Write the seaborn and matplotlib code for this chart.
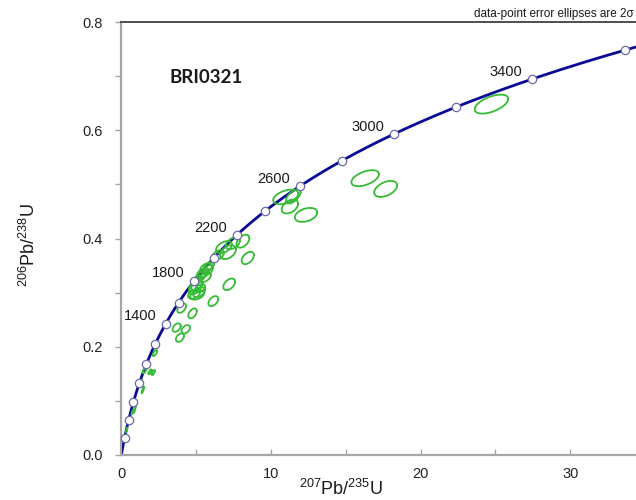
"""
Concordia diagram for sample BRI0321 (U-Pb zircon, 2 sigma error ellipses)
"""

import numpy as np
import pandas as pd
import seaborn as sns
import matplotlib.pyplot as plt

# ── Data ───────────────────────────────────────────────────────────
# decay constants (1/yr) used for the concordia curve
LAMBDA_238 = 1.55125e-10
LAMBDA_235 = 9.8485e-10

# age markers on the concordia (Ma) and the ones carrying a label
marker_ages = [200, 400, 600, 800, 1000, 1200, 1400, 1600, 1800, 2000,
               2200, 2400, 2600, 2800, 3000, 3200, 3400, 3600]
label_ages = [1400, 1800, 2200, 2600, 3000, 3400]

# analyses: ratio, 2 sigma error, error correlation
pb207_u235 = [24.74, 16.30, 17.67, 12.35, 10.99, 11.49, 11.27,
              6.86, 7.13, 7.46, 8.13, 8.45, 6.46, 7.21, 6.15,
              4.76, 4.03, 3.70, 4.31, 3.92,
              5.66, 5.46, 5.79, 5.32, 5.59, 5.86, 5.12,
              5.06, 4.92, 5.19, 4.86, 5.06, 5.26, 4.79,
              2.25, 1.56, 1.92, 2.14, 1.44, 1.28, 0.98, 0.88, 0.75, 0.36]
pb206_u238 = [0.6483, 0.5114, 0.4916, 0.4436, 0.4768, 0.4776, 0.4591,
              0.3840, 0.3748, 0.3914, 0.3951, 0.3640, 0.3692, 0.3153, 0.2843,
              0.2616, 0.2714, 0.2354, 0.2322, 0.2169,
              0.3452, 0.3360, 0.3416, 0.3304, 0.3286, 0.3489, 0.3249,
              0.3138, 0.3064, 0.3009, 0.2972, 0.2954, 0.3083, 0.3101,
              0.1883, 0.1564, 0.1536, 0.1523, 0.1200, 0.1348, 0.0941, 0.0831, 0.0794, 0.0462]
err_207_235 = [1.12, 0.92, 0.77, 0.75, 0.84, 0.49, 0.55,
               0.53, 0.53, 0.47, 0.43, 0.41, 0.40, 0.39, 0.33,
               0.28, 0.29, 0.27, 0.28, 0.27,
               0.40, 0.40, 0.33, 0.33, 0.40, 0.33, 0.27,
               0.40, 0.40, 0.40, 0.40, 0.47, 0.33, 0.27,
               0.15, 0.13, 0.11, 0.11, 0.08, 0.08, 0.07, 0.07, 0.07, 0.05]
err_206_238 = [0.0175, 0.0148, 0.0148, 0.0129, 0.0135, 0.0129, 0.0129,
               0.0111, 0.0129, 0.0111, 0.0120, 0.0114, 0.0092, 0.0107, 0.0092,
               0.0092, 0.0087, 0.0078, 0.0078, 0.0078,
               0.0092, 0.0092, 0.0092, 0.0092, 0.0092, 0.0074, 0.0074,
               0.0092, 0.0092, 0.0092, 0.0083, 0.0083, 0.0074, 0.0074,
               0.0055, 0.0055, 0.0046, 0.0046, 0.0061, 0.0046, 0.0055, 0.0055, 0.0046, 0.0046]
rho = [0.55, 0.50, 0.45, 0.35, 0.45, 0.60, 0.40,
       0.45, 0.40, 0.45, 0.45, 0.45, 0.45, 0.45, 0.45,
       0.45, 0.45, 0.40, 0.40, 0.40,
       0.45, 0.45, 0.45, 0.45, 0.45, 0.45, 0.45,
       0.40, 0.40, 0.40, 0.40, 0.40, 0.40, 0.40,
       0.70, 0.70, 0.70, 0.70, 0.85, 0.85, 0.85, 0.85, 0.85, 0.85]

# ── Style ──────────────────────────────────────────────────────────
sns.set_style('white')
plt.rcParams['font.family'] = ['Liberation Sans', 'DejaVu Sans']
plt.rcParams['mathtext.fontset'] = 'custom'
plt.rcParams['mathtext.rm'] = 'Liberation Sans'
plt.rcParams['mathtext.default'] = 'regular'

CONC_COLOR = '#0a0a96'
ELL_COLOR = '#35bb35'
AXIS_GREY = '#a6a6a6'


def concordia(age_ma):
    t = np.asarray(age_ma, dtype=float) * 1e6
    return np.exp(LAMBDA_235 * t) - 1, np.exp(LAMBDA_238 * t) - 1


# concordia curve
curve_ages = np.linspace(0, 3800, 400)
cx, cy = concordia(curve_ages)
curve = pd.DataFrame({'x': cx, 'y': cy})

# error ellipses from the 2 sigma errors and correlation
theta = np.linspace(0, 2 * np.pi, 80)
rows = []
for i, (x0, y0, sx, sy, r) in enumerate(zip(pb207_u235, pb206_u238,
                                             err_207_235, err_206_238, rho)):
    ex = x0 + sx * np.cos(theta)
    ey = y0 + sy * (r * np.cos(theta) + np.sqrt(1 - r ** 2) * np.sin(theta))
    rows.append(pd.DataFrame({'id': i, 'x': ex, 'y': ey}))
ellipses = pd.concat(rows, ignore_index=True)

mx, my = concordia(marker_ages)
markers = pd.DataFrame({'age': marker_ages, 'x': mx, 'y': my})

# ── Plot ───────────────────────────────────────────────────────────
fig = plt.figure(figsize=(6.36, 5.0), dpi=100)
ax = fig.add_axes([121.3 / 636, 45 / 500, (636 - 121.3) / 636, 433 / 500])

sns.lineplot(data=curve, x='x', y='y', sort=False, estimator=None,
             color=CONC_COLOR, linewidth=2.0, zorder=2, ax=ax)
sns.lineplot(data=ellipses, x='x', y='y', units='id', estimator=None,
             sort=False, color=ELL_COLOR, linewidth=1.3, zorder=3, ax=ax)
sns.scatterplot(data=markers, x='x', y='y', s=36, color='white',
                edgecolor='#6a6aa8', linewidth=0.9, zorder=4, ax=ax)

for age in label_ages:
    lx, ly = concordia(age)
    ax.annotate(str(age), (lx, ly), xytext=(-18.7, 5.2),
                textcoords='offset points', ha='center', va='center',
                fontsize=10.5, color='#1a1a1a')

ax.text(0.0946, 0.871, 'BRI0321', transform=ax.transAxes, ha='left',
        va='center', fontsize=13.5, fontweight='bold', family=['Lato', 'DejaVu Sans'],
        color='#1a1a1a')

fig.text(0.997, 0.966, 'data-point error ellipses are 2σ', ha='right',
         va='baseline', fontsize=8.5, color='#1a1a1a')

ax.set_xlim(0, 34.4)
ax.set_ylim(0, 0.8)
ax.set_xticks([0, 10, 20, 30])
ax.set_xticks([5, 15, 25], minor=True)
ax.set_yticks([0.0, 0.2, 0.4, 0.6, 0.8])
ax.set_yticklabels(['0.0', '0.2', '0.4', '0.6', '0.8'])
ax.set_yticks([0.1, 0.3, 0.5, 0.7], minor=True)

ax.tick_params(axis='x', which='both', direction='in', length=4, width=1,
               color=AXIS_GREY, pad=9, labelsize=10.5, labelcolor='#222222')
ax.tick_params(axis='y', which='both', direction='out', length=4, width=1,
               color=AXIS_GREY, pad=9, labelsize=10.5, labelcolor='#222222')
ax.tick_params(axis='both', which='both', bottom=True, left=True)

ax.set_xlabel(r'$^{207}$Pb/$^{235}$U', fontsize=13, color='#1a1a1a')
ax.set_ylabel(r'$^{206}$Pb/$^{238}$U', fontsize=13, color='#1a1a1a')
ax.xaxis.set_label_coords(0.427, -0.055)
ax.yaxis.set_label_coords(-0.16, 0.485)

for side in ['left', 'bottom']:
    ax.spines[side].set_color(AXIS_GREY)
    ax.spines[side].set_linewidth(1.6)
ax.spines['top'].set_color('#404040')
ax.spines['top'].set_linewidth(1.3)
ax.spines['right'].set_visible(False)

plt.savefig('out.png', dpi=100)
plt.close()
print("Saved -> out.png")
